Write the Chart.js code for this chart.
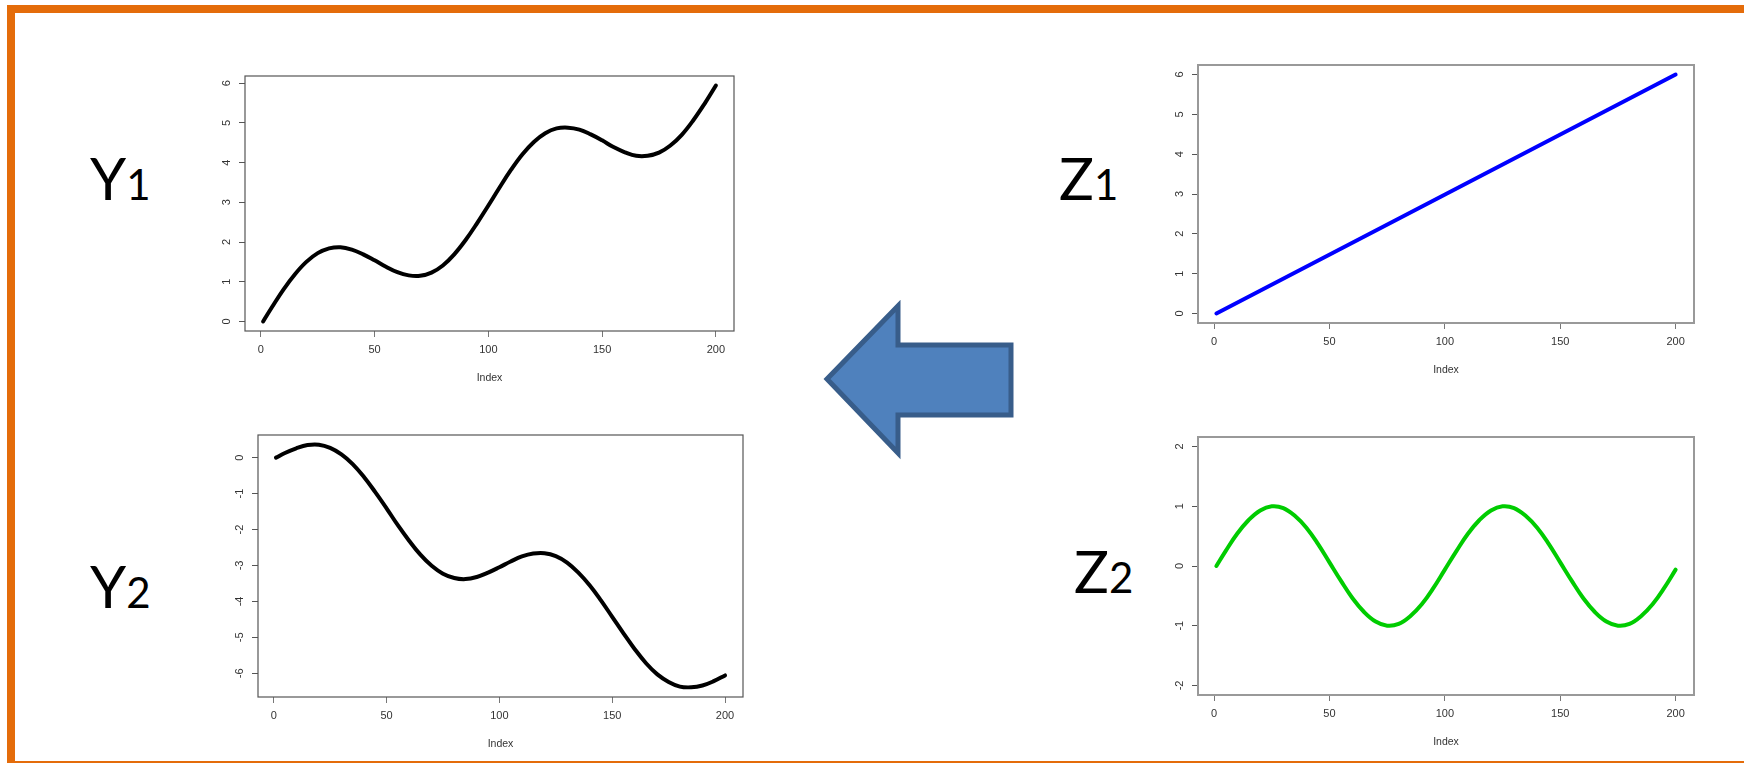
<!DOCTYPE html>
<html>
<head>
<meta charset="utf-8">
<script src="https://cdn.jsdelivr.net/npm/chart.js@4.4.1/dist/chart.umd.min.js"></script>
<style>
  html, body { margin: 0; padding: 0; background: #fff; }
  body { width: 1744px; height: 763px; position: relative; overflow: hidden; }
  .frame-top { position: absolute; left: 7px; top: 5px; width: 1737px; height: 8px; background: #E46C0A; }
  .frame-left { position: absolute; left: 7px; top: 5px; width: 8px; height: 758px; background: #E46C0A; }
  .frame-bottom { position: absolute; left: 7px; top: 761px; width: 1737px; height: 2px; background: #E46C0A; }
  .plot { position: absolute; }
  .big { position: absolute; font-family: Lato, "Open Sans", sans-serif; font-size: 58px; line-height: 58px; color: #000; white-space: nowrap; }
  .big span { font-size: 42px; color: #000; }
  svg { position: absolute; left: 0; top: 0; }
</style>
</head>
<body>
<div class="frame-top"></div>
<div class="frame-left"></div>
<div class="frame-bottom"></div>

<div class="big" style="left:90px; top:149px;">Y<span>1</span></div>
<div class="big" style="left:90px; top:557px;">Y<span>2</span></div>
<div class="big" style="left:1059px; top:149px;">Z<span>1</span></div>
<div class="big" style="left:1074px; top:542px;">Z<span>2</span></div>

<svg width="1744" height="763">
  <polygon points="827,379 898,306 898,345 1011,345 1011,415 898,415 898,453"
           fill="#4F81BD" stroke="#385D8A" stroke-width="5" stroke-linejoin="miter"/>
</svg>

<div class="plot" id="wrap-y1"><canvas id="plot-y1"></canvas></div>
<div class="plot" id="wrap-y2"><canvas id="plot-y2"></canvas></div>
<div class="plot" id="wrap-z1"><canvas id="plot-z1"></canvas></div>
<div class="plot" id="wrap-z2"><canvas id="plot-z2"></canvas></div>

<script>
// sample indices
const index = [1, 5, 10, 15, 20, 25, 30, 35, 40, 45, 50, 55, 60, 65, 70, 75, 80, 85, 90, 95, 100,
               105, 110, 115, 120, 125, 130, 135, 140, 145, 150, 155, 160, 165, 170, 175, 180, 185, 190, 195, 200];

const y1Values = [0, 0.37, 0.81, 1.19, 1.50, 1.72, 1.84, 1.87, 1.81, 1.69, 1.54, 1.38, 1.24, 1.16, 1.15, 1.23, 1.41, 1.69, 2.05, 2.47, 2.92,
                  3.38, 3.82, 4.21, 4.52, 4.74, 4.86, 4.88, 4.83, 4.71, 4.56, 4.39, 4.26, 4.17, 4.17, 4.25, 4.43, 4.70, 5.06, 5.48, 5.94];

const y2Values = [0, 0.13, 0.26, 0.35, 0.36, 0.27, 0.09, -0.18, -0.54, -0.96, -1.41, -1.88, -2.31, -2.70, -3.01, -3.23, -3.35, -3.38, -3.32, -3.20, -3.05,
                  -2.89, -2.75, -2.67, -2.66, -2.74, -2.92, -3.20, -3.55, -3.97, -4.43, -4.89, -5.33, -5.72, -6.03, -6.24, -6.37, -6.39, -6.34, -6.22, -6.06];

const z1Index = [1, 200];
const z1Values = [0, 6];

const z2Values = [0, 0.25, 0.54, 0.77, 0.93, 1.00, 0.97, 0.84, 0.64, 0.37, 0.06, -0.25, -0.54, -0.77, -0.93, -1.00, -0.97, -0.84, -0.64, -0.37, -0.06,
                  0.25, 0.54, 0.77, 0.93, 1.00, 0.97, 0.84, 0.64, 0.37, 0.06, -0.25, -0.54, -0.77, -0.93, -1.00, -0.97, -0.84, -0.64, -0.37, -0.06];

const xTicks = [0, 50, 100, 150, 200];
const y1Ticks = [0, 1, 2, 3, 4, 5, 6];
const y2Ticks = [0, -1, -2, -3, -4, -5, -6];
const z1Ticks = [0, 1, 2, 3, 4, 5, 6];
const z2Ticks = [-2, -1, 0, 1, 2];

const tickFont = '11px "Liberation Sans", Arial, sans-serif';

// box around the plot region + y labels turned like R does
const rFrame = {
    id: 'rFrame',
    afterDraw(chart, args, opts) {
        const ctx = chart.ctx;
        const a = chart.chartArea;
        const ys = chart.scales.y;
        ctx.save();
        ctx.strokeStyle = opts.boxColor;
        ctx.lineWidth = opts.boxWidth;
        ctx.strokeRect(a.left, a.top, a.right - a.left, a.bottom - a.top);
        ctx.fillStyle = '#333';
        ctx.font = tickFont;
        ctx.textAlign = 'center';
        ctx.textBaseline = 'middle';
        ys.ticks.forEach(t => {
            ctx.save();
            ctx.translate(a.left - 18, ys.getPixelForValue(t.value));
            ctx.rotate(-Math.PI / 2);
            ctx.fillText(String(t.value), 0, 0);
            ctx.restore();
        });
        ctx.restore();
    }
};

function makePlot(id, box, xs, vals, color, yMin, yMax, yTicks, boxColor, boxWidth) {
    const padL = 60, padT = 12, padR = 20, axisH = 60;
    const wrap = document.getElementById('wrap-' + id);
    const canvas = document.getElementById('plot-' + id);
    const w = box.w + padL + padR, h = box.h + padT + axisH + 2;
    wrap.style.left = (box.left - padL) + 'px';
    wrap.style.top = (box.top - padT) + 'px';
    canvas.width = w; canvas.height = h;
    canvas.style.width = w + 'px'; canvas.style.height = h + 'px';

    return new Chart(canvas.getContext('2d'), {
        type: 'line',
        data: {
            datasets: [{
                data: xs.map((x, i) => ({ x: x, y: vals[i] })),
                borderColor: color,
                borderWidth: 4,
                borderCapStyle: 'round',
                borderJoinStyle: 'round',
                pointRadius: 0,
                tension: 0.4,
                fill: false
            }]
        },
        options: {
            responsive: false,
            animation: false,
            events: [],
            layout: { padding: { left: 0, top: padT, right: padR, bottom: 2 } },
            plugins: {
                legend: { display: false },
                tooltip: { enabled: false },
                rFrame: { boxColor: boxColor, boxWidth: boxWidth }
            },
            scales: {
                x: {
                    type: 'linear',
                    min: -6.96,
                    max: 207.96,
                    afterBuildTicks: s => { s.ticks = xTicks.map(v => ({ value: v })); },
                    afterFit: s => { s.height = axisH; },
                    grid: { drawOnChartArea: false, drawTicks: true, tickLength: 6, color: '#777', tickWidth: 1 },
                    border: { display: false },
                    ticks: { color: '#333', font: { family: '"Liberation Sans", Arial', size: 11 }, padding: 6, maxRotation: 0 },
                    title: { display: true, text: 'Index', color: '#333', font: { family: '"Liberation Sans", Arial', size: 10.5 }, padding: { top: 0, bottom: 7 } }
                },
                y: {
                    type: 'linear',
                    min: yMin,
                    max: yMax,
                    afterBuildTicks: s => { s.ticks = yTicks.map(v => ({ value: v })); },
                    afterFit: s => { s.width = padL; },
                    grid: { drawOnChartArea: false, drawTicks: true, tickLength: 6, color: '#555', tickWidth: 1 },
                    border: { display: false },
                    ticks: { display: false }
                }
            }
        },
        plugins: [rFrame]
    });
}

makePlot('y1', { left: 245, top: 76, w: 489, h: 255 }, index, y1Values, '#000000', -0.24, 6.18, y1Ticks, '#555', 1.2);
makePlot('y2', { left: 258, top: 435, w: 485, h: 262 }, index, y2Values, '#000000', -6.66, 0.63, y2Ticks, '#555', 1.2);
makePlot('z1', { left: 1198, top: 65, w: 496, h: 258 }, z1Index, z1Values, '#0000FF', -0.24, 6.24, z1Ticks, '#999', 2);
makePlot('z2', { left: 1198, top: 437, w: 496, h: 258 }, index, z2Values, '#00CC00', -2.16, 2.16, z2Ticks, '#999', 2);
</script>
</body>
</html>
